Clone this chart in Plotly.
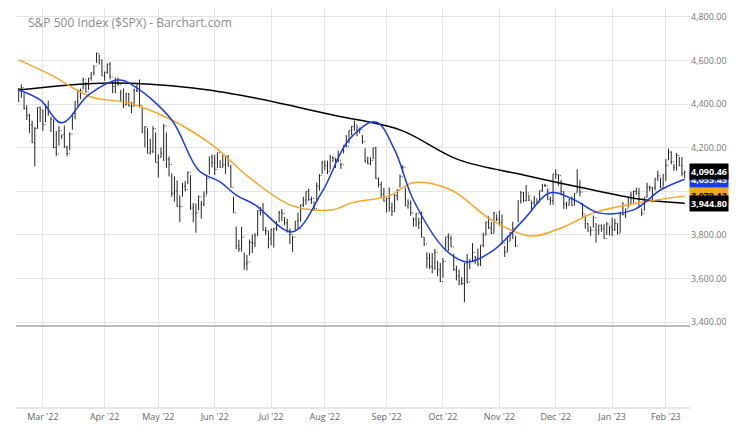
import pandas as pd
import plotly.graph_objects as go
from plotly.subplots import make_subplots

holidays = ['2022-02-21', '2022-04-15', '2022-05-30', '2022-06-20', '2022-07-04', '2022-09-05',
            '2022-11-24', '2022-12-26', '2023-01-02', '2023-01-16']

# daily S&P 500 highs / lows / closes, Feb 15 2022 .. Feb 10 2023
closes = [4471, 4475, 4380, 4349, 4304, 4225, 4288, 4385, 4374,
          4306, 4387, 4363, 4329, 4201, 4171, 4278, 4260, 4204, 4173, 4262, 4357, 4412, 4463, 4461, 4512, 4456, 4520, 4543, 4576, 4632, 4602, 4530,
          4546, 4583, 4525, 4481, 4500, 4488, 4413, 4397, 4447, 4392, 4391, 4463, 4459, 4394, 4272, 4296, 4175, 4183, 4288, 4132,
          4155, 4175, 4300, 4147, 4123, 3991, 4001, 3935, 3930, 4024, 4008, 4088, 3924, 3901, 3901, 3974, 3941, 3979, 4058, 4158, 4132,
          4101, 4177, 4109, 4121, 4161, 4116, 4018, 3901, 3750, 3735, 3790, 3667, 3675, 3765, 3760, 3796, 3912, 3901, 3822, 3819, 3785,
          3825, 3831, 3845, 3903, 3899, 3855, 3819, 3802, 3790, 3863, 3831, 3937, 3960, 3999, 3962, 3967, 3921, 4024, 4072, 4130,
          4119, 4091, 4155, 4152, 4145, 4140, 4122, 4210, 4207, 4280, 4297, 4305, 4275, 4284, 4228, 4138, 4128, 4141, 4199, 4058, 4031, 3986, 3955,
          3967, 3924, 3908, 3980, 4006, 4067, 4110, 3933, 3946, 3901, 3873, 3899, 3856, 3790, 3758, 3693, 3655, 3647, 3720, 3640, 3586,
          3678, 3791, 3783, 3745, 3640, 3612, 3589, 3577, 3670, 3583, 3678, 3720, 3695, 3666, 3753, 3798, 3859, 3831, 3807, 3901, 3872,
          3856, 3760, 3720, 3771, 3807, 3828, 3749, 3956, 3993, 3957, 3992, 3959, 3947, 3965, 3950, 4003, 4027, 4026, 3964, 3958, 4080,
          4077, 4072, 3999, 3941, 3934, 3964, 3934, 3991, 4019, 3996, 3896, 3852, 3818, 3822, 3879, 3822, 3845, 3829, 3783, 3850, 3840,
          3825, 3853, 3808, 3895, 3893, 3919, 3970, 3983, 3999, 3991, 3929, 3899, 3973, 4020, 4017, 4016, 4060, 4071, 4018, 4077,
          4119, 4180, 4136, 4111, 4164, 4118, 4082, 4090.46]
highs = [4473, 4490, 4450, 4395, 4356, 4323, 4295, 4385, 4389,
         4375, 4401, 4416, 4342, 4329, 4277, 4299, 4258, 4301, 4209, 4271, 4358, 4412, 4466, 4471, 4522, 4501, 4520, 4546, 4576, 4637, 4627, 4604,
         4549, 4587, 4593, 4503, 4521, 4521, 4465, 4472, 4453, 4451, 4410, 4471, 4489, 4513, 4385, 4299, 4289, 4241, 4299, 4270,
         4169, 4201, 4308, 4270, 4160, 4082, 4068, 4050, 3981, 4039, 4047, 4090, 4074, 3946, 3944, 3981, 3956, 4000, 4076, 4158, 4169,
         4167, 4177, 4143, 4169, 4164, 4165, 4120, 3975, 3838, 3778, 3837, 3719, 3708, 3779, 3802, 3808, 3913, 3928, 3946, 3836, 3818,
         3829, 3832, 3864, 3910, 3919, 3882, 3874, 3829, 3796, 3863, 3903, 3939, 3975, 3999, 4013, 3975, 3954, 4040, 4079, 4140,
         4141, 4141, 4167, 4161, 4152, 4187, 4131, 4211, 4258, 4280, 4301, 4325, 4302, 4292, 4259, 4197, 4159, 4156, 4200, 4204, 4063, 4044, 4015,
         3970, 4018, 3948, 3987, 4010, 4077, 4119, 4017, 3963, 3959, 3880, 3900, 3879, 3907, 3790, 3720, 3716, 3717, 3736, 3681, 3671,
         3694, 3791, 3807, 3797, 3713, 3659, 3641, 3606, 3672, 3712, 3689, 3762, 3703, 3737, 3753, 3810, 3862, 3886, 3859, 3906, 3894,
         3911, 3894, 3750, 3796, 3814, 3860, 3796, 3958, 4001, 3997, 4029, 3984, 3954, 3979, 3963, 4003, 4034, 4034, 4012, 3976, 4080,
         4101, 4077, 4052, 3999, 3952, 3965, 3977, 3991, 4101, 4051, 3946, 3890, 3854, 3839, 3889, 3855, 3846, 3846, 3849, 3859, 3840,
         3879, 3874, 3853, 3907, 3951, 3920, 3970, 3998, 4004, 4016, 4015, 3922, 3973, 4039, 4026, 4020, 4060, 4095, 4063, 4077,
         4148, 4195, 4183, 4124, 4176, 4158, 4157, 4095]
lows = [4410, 4429, 4375, 4327, 4267, 4221, 4114, 4287, 4318,
        4277, 4318, 4346, 4272, 4199, 4162, 4209, 4241, 4200, 4161, 4188, 4282, 4330, 4390, 4423, 4468, 4455, 4466, 4507, 4532, 4589, 4582, 4531,
        4507, 4539, 4514, 4450, 4450, 4484, 4411, 4382, 4394, 4390, 4359, 4389, 4455, 4384, 4267, 4201, 4174, 4169, 4175, 4132,
        4063, 4156, 4139, 4106, 4068, 3975, 3953, 3928, 3859, 3975, 4000, 4033, 3914, 3858, 3810, 3913, 3875, 3932, 3985, 4077, 4110,
        4075, 4107, 4108, 4109, 4080, 4113, 4018, 3901, 3735, 3722, 3723, 3640, 3637, 3705, 3717, 3744, 3797, 3889, 3820, 3799, 3738,
        3752, 3742, 3818, 3858, 3863, 3844, 3811, 3758, 3722, 3817, 3826, 3860, 3928, 3939, 3956, 3942, 3911, 3957, 4003, 4080,
        4096, 4079, 4099, 4135, 4107, 4133, 4103, 4174, 4201, 4220, 4256, 4277, 4253, 4265, 4218, 4131, 4124, 4119, 4147, 4057, 4018, 3971, 3954,
        3903, 3907, 3887, 3907, 3958, 4017, 4084, 3933, 3920, 3888, 3838, 3838, 3827, 3789, 3749, 3647, 3644, 3624, 3640, 3610, 3584,
        3604, 3726, 3726, 3744, 3636, 3591, 3568, 3570, 3491, 3578, 3644, 3675, 3667, 3656, 3657, 3743, 3799, 3827, 3803, 3809, 3863,
        3843, 3758, 3699, 3722, 3773, 3781, 3744, 3857, 3944, 3950, 3954, 3956, 3907, 3935, 3939, 3956, 3997, 4020, 3962, 3938, 3938,
        4057, 4026, 3985, 3919, 3919, 3936, 3933, 3937, 3994, 3977, 3880, 3828, 3816, 3796, 3833, 3765, 3800, 3814, 3782, 3800, 3798,
        3795, 3818, 3802, 3810, 3890, 3877, 3925, 3937, 3947, 3984, 3926, 3886, 3911, 3972, 4001, 3950, 4004, 4048, 4015, 4021,
        4047, 4142, 4124, 4094, 4096, 4115, 4069, 4060]

# moving averages, sampled from the chart
ma20_dates = ['2022-02-15', '2022-02-28', '2022-03-10', '2022-03-24', '2022-04-08', '2022-04-19', '2022-05-09',
              '2022-05-23', '2022-06-03', '2022-06-13', '2022-06-23', '2022-07-14', '2022-07-29', '2022-08-12',
              '2022-08-26', '2022-09-07', '2022-09-16', '2022-10-04', '2022-10-14', '2022-10-28', '2022-11-14',
              '2022-11-29', '2022-12-12', '2022-12-23', '2023-01-13', '2023-01-30', '2023-02-10']
ma20 = [4465, 4419, 4314, 4442, 4511, 4483, 4327, 4097, 4043, 3983, 3938, 3814, 3997, 4236,
        4318, 4190, 3960, 3731, 3676, 3731, 3869, 3993, 3960, 3901, 3915, 4006, 4055.45]
ma50_dates = ['2022-02-15', '2022-03-04', '2022-03-25', '2022-04-14', '2022-05-09', '2022-05-31', '2022-06-22',
              '2022-07-14', '2022-08-04', '2022-08-15', '2022-09-02', '2022-09-16', '2022-10-06', '2022-10-27',
              '2022-11-17', '2022-12-05', '2022-12-22', '2023-01-18', '2023-02-10']
ma50 = [4603, 4534, 4433, 4405, 4327, 4213, 4052, 3933, 3915, 3947, 3979, 4039, 4006, 3869,
        3795, 3832, 3905, 3947, 3979]
ma200_dates = ['2022-02-15', '2022-04-05', '2022-05-19', '2022-06-21', '2022-08-04', '2022-09-09',
               '2022-10-11', '2022-11-14', '2022-12-15', '2023-01-18', '2023-02-10']
ma200 = [4465, 4497, 4474, 4433, 4350, 4282, 4144, 4075, 4016, 3965, 3944.80]

dates = [d for d in pd.bdate_range('2022-02-15', '2023-02-10') if d.strftime('%Y-%m-%d') not in holidays]
opens = [closes[0]] + closes[:-1]

fig = make_subplots(rows=2, cols=1, shared_xaxes=True, row_heights=[0.797, 0.203], vertical_spacing=0.0)
fig.add_trace(go.Ohlc(x=dates, open=opens, high=highs, low=lows, close=closes, tickwidth=0.3,
                      increasing_line_color='#222', decreasing_line_color='#222', line_width=1), row=1, col=1)
fig.add_scatter(x=ma200_dates, y=ma200, mode='lines', line=dict(color='black', width=1.5, shape='spline'), row=1, col=1)
fig.add_scatter(x=ma50_dates, y=ma50, mode='lines', line=dict(color='#f5a623', width=1.5, shape='spline'), row=1, col=1)
fig.add_scatter(x=ma20_dates, y=ma20, mode='lines', line=dict(color='#1a3be8', width=1.5, shape='spline'), row=1, col=1)
# empty lower pane needs a trace so its axis is drawn
fig.add_scatter(x=dates, y=[0] * len(dates), mode='markers', marker=dict(opacity=0), hoverinfo='skip', row=2, col=1)

month_ticks = []
for d in dates:
    if not month_ticks or d.month != month_ticks[-1].month:
        month_ticks.append(d)
month_ticks = month_ticks[1:]

xcommon = dict(rangebreaks=[dict(bounds=['sat', 'mon']), dict(values=holidays)],
               range=['2022-02-14', '2023-02-14'], tickvals=month_ticks,
               showgrid=True, gridcolor='#e3e3e3', rangeslider_visible=False, linecolor='#e6e6e6')
fig.update_xaxes(**xcommon, showticklabels=False, row=1, col=1)
fig.update_xaxes(**xcommon, ticktext=[d.strftime("%b '%y") for d in month_ticks], showticklabels=True,
                 tickfont=dict(size=9, color='#666'), showline=True, linewidth=2, row=2, col=1)
fig.update_yaxes(range=[3382, 4841], side='right', tickvals=[3400, 3600, 3800, 4000, 4200, 4400, 4600, 4800],
                 tickformat=',.2f', tickfont=dict(size=9, color='#777'), gridcolor='#e3e3e3', row=1, col=1)
fig.update_yaxes(range=[-1, 1], showgrid=False, showticklabels=False, zeroline=False, row=2, col=1)

# divider between panes
fig.add_shape(type='line', xref='paper', yref='paper', x0=0, x1=1, y0=0.203, y1=0.203,
              line=dict(color='#bbbbbb', width=2))

labels = [(3979, '3,979.12', '#f5a623', 'black'), (4055.45, '4,055.45', '#1a3be8', 'white'),
          (4090.46, '4,090.46', 'black', 'white'), (3944.80, '3,944.80', 'black', 'white')]
for val, txt, bg, fg in labels:
    fig.add_annotation(x=1.058, xref='paper', y=val, yref='y', text='<b>' + txt + '</b>', showarrow=False,
                       xanchor='right', bgcolor=bg, font=dict(size=9, color=fg), borderpad=1)

fig.add_annotation(x=0.015, y=0.99, xref='paper', yref='paper', text='S&P 500 Index ($SPX) - Barchart.com',
                   showarrow=False, xanchor='left', yanchor='top', font=dict(size=12, color='#8a8a8a'))

fig.update_layout(width=732, height=425, margin=dict(t=0, b=26, l=8, r=50), showlegend=False,
                  plot_bgcolor='white', paper_bgcolor='white', font=dict(family='Open Sans'))
fig.write_html("out.html")
